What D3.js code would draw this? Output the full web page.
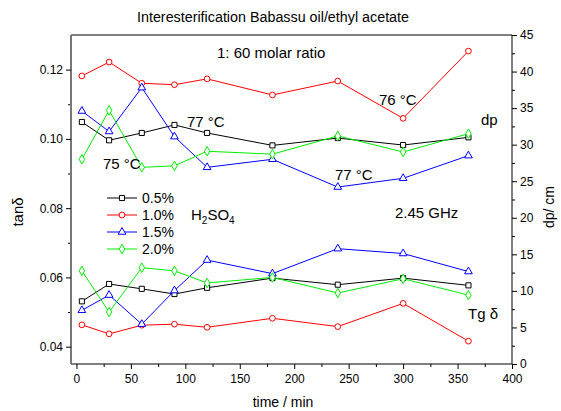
<!DOCTYPE html>
<html>
<head>
<meta charset="utf-8">
<script src="https://cdn.jsdelivr.net/npm/d3@7"></script>
<style>
  html, body { margin: 0; padding: 0; background: #fff; overflow: hidden; }
  svg { display: block; font-family: "Liberation Sans", Arial, sans-serif; }
</style>
</head>
<body>
<div id="chart"></div>
<script>
const times = [5, 30, 60, 90, 120, 180, 240, 300, 360];
const concentrations = ["0.5%", "1.0%", "1.5%", "2.0%"];

// penetration depth, cm (right axis)
const dp05 = [33.1, 30.6, 31.6, 32.7, 31.6, 29.9, 30.9, 29.95, 31.0];
const dp10 = [39.4, 41.3, 38.4, 38.2, 39.0, 36.8, 38.7, 33.6, 42.8];
const dp15 = [34.6, 31.8, 37.8, 31.1, 26.9, 28.0, 24.2, 25.4, 28.5];
const dp20 = [28.0, 34.7, 26.9, 27.1, 29.1, 28.7, 31.2, 29.0, 31.5];

// tan delta (left axis)
const tan05 = [0.0531, 0.0581, 0.0567, 0.0552, 0.0570, 0.0598, 0.0579, 0.0598, 0.0577];
const tan10 = [0.0463, 0.0437, 0.0462, 0.0465, 0.0456, 0.0482, 0.0458, 0.0525, 0.0416];
const tan15 = [0.0505, 0.0549, 0.0465, 0.0562, 0.0650, 0.0611, 0.0683, 0.0669, 0.0617];
const tan20 = [0.0619, 0.0500, 0.0628, 0.0619, 0.0584, 0.0600, 0.0555, 0.0596, 0.0549];

const colors = ["#000000", "#ff0000", "#0000ff", "#00ee00"];
const symbols = [d3.symbolSquare, d3.symbolCircle, d3.symbolTriangle, d3.symbolDiamond];
const symSize = 26;

const width = 561, height = 411;
const margin = { top: 35, right: 49, bottom: 47, left: 71 };
const innerWidth = width - margin.left - margin.right;
const innerHeight = height - margin.top - margin.bottom;

const svg = d3.select("#chart").append("svg")
  .attr("width", width).attr("height", height);

const g = svg.append("g")
  .attr("transform", `translate(${margin.left},${margin.top})`);

const x = d3.scaleLinear().domain([-5, 400]).range([0, innerWidth]);
const yL = d3.scaleLinear().domain([0.035, 0.13]).range([innerHeight, 0]);
const yR = d3.scaleLinear().domain([0, 45]).range([innerHeight, 0]);

// top border
g.append("line").attr("x1", 0).attr("x2", innerWidth).attr("y1", 0).attr("y2", 0)
  .attr("stroke", "#000");

// minor ticks (no labels)
const minor = (axis, vals) => {
  const a = g.append("g");
  a.call(axis.tickValues(vals).tickSize(3).tickFormat(""));
  a.select(".domain").remove();
  a.selectAll("text").remove();
  return a;
};
minor(d3.axisBottom(x), d3.range(25, 400, 50)).attr("transform", `translate(0,${innerHeight})`);
minor(d3.axisLeft(yL), [0.05, 0.07, 0.09, 0.11]);
minor(d3.axisRight(yR), d3.range(2.5, 45, 5)).attr("transform", `translate(${innerWidth},0)`);

// bottom axis
const xAxis = g.append("g").attr("transform", `translate(0,${innerHeight})`)
  .call(d3.axisBottom(x).tickValues(d3.range(0, 401, 50)).tickSize(5));
xAxis.select(".domain").attr("d", `M0,0H${innerWidth}`);
xAxis.selectAll("text").attr("dy", "0.95em");

// left axis
const yAxisL = g.append("g")
  .call(d3.axisLeft(yL).tickValues([0.04, 0.06, 0.08, 0.10, 0.12]).tickSize(5).tickFormat(d3.format(".2f")));
yAxisL.select(".domain").attr("d", `M0,${innerHeight}V0`).attr("stroke", "#777").attr("stroke-width", 2);

// right axis
const yAxisR = g.append("g").attr("transform", `translate(${innerWidth},0)`)
  .call(d3.axisRight(yR).tickValues(d3.range(0, 46, 5)).tickSize(5));
yAxisR.select(".domain").attr("d", `M0,${innerHeight}V0`);

[xAxis, yAxisL, yAxisR].forEach(a => {
  a.selectAll("text").attr("font-size", 12).attr("fill", "#000")
    .attr("font-family", "Liberation Sans, Arial, sans-serif");
});

const drawSeries = (vals, yScale, i) => {
  const pts = vals.map((v, k) => [times[k], v]);
  g.append("path").datum(pts)
    .attr("fill", "none").attr("stroke", colors[i]).attr("stroke-width", 1)
    .attr("d", d3.line().x(d => x(d[0])).y(d => yScale(d[1])));
  g.selectAll(null).data(pts).join("path")
    .attr("transform", d => `translate(${x(d[0])},${yScale(d[1])})`)
    .attr("d", d3.symbol(symbols[i], symSize))
    .attr("fill", "#fff").attr("stroke", colors[i]).attr("stroke-width", 1);
};

[dp05, dp10, dp15, dp20].forEach((s, i) => drawSeries(s, yR, i));
[tan05, tan10, tan15, tan20].forEach((s, i) => drawSeries(s, yL, i));

// legend
const legend = g.append("g").attr("transform", "translate(36,163)");
concentrations.forEach((c, i) => {
  const row = legend.append("g").attr("transform", `translate(0,${i * 17})`);
  row.append("line").attr("x1", 0).attr("x2", 30).attr("stroke", colors[i]);
  row.append("path").attr("transform", "translate(15,0)")
    .attr("d", d3.symbol(symbols[i], symSize))
    .attr("fill", "#fff").attr("stroke", colors[i]);
  row.append("text").attr("x", 35).attr("dy", "0.35em")
    .attr("font-size", 14).text(c);
});

// annotations
const note = (tx, ty, str, size) => svg.append("text")
  .attr("x", tx).attr("y", ty).attr("dy", "0.35em")
  .attr("font-size", size).text(str);

svg.append("text").attr("x", 137).attr("y", 17).attr("dy", "0.35em")
  .attr("font-size", 14).attr("textLength", 272).attr("lengthAdjust", "spacingAndGlyphs")
  .text("Interesterification Babassu oil/ethyl acetate");
note(217, 53, "1: 60 molar ratio", 15);
note(187, 122, "77 °C", 15);
note(103, 164, "75 °C", 15);
note(379, 100, "76 °C", 15);
note(335, 175, "77 °C", 15);
note(481, 120, "dp", 15);
note(395, 213, "2.45 GHz", 15);
note(468, 314, "Tg δ", 15);

const h2so4 = svg.append("text").attr("x", 191).attr("y", 220).attr("font-size", 15);
h2so4.append("tspan").text("H");
h2so4.append("tspan").attr("font-size", 10).attr("dy", 4).text("2");
h2so4.append("tspan").attr("dy", -4).text("SO");
h2so4.append("tspan").attr("font-size", 10).attr("dy", 4).text("4");

// axis titles
svg.append("text").attr("x", 283).attr("y", 402).attr("dy", "0.35em")
  .attr("text-anchor", "middle").attr("font-size", 14).text("time / min");
svg.append("text").attr("transform", "translate(18,212) rotate(-90)")
  .attr("dy", "0.35em").attr("text-anchor", "middle").attr("font-size", 15).text("tanδ");
svg.append("text").attr("transform", "translate(549,207) rotate(-90)")
  .attr("dy", "0.35em").attr("text-anchor", "middle").attr("font-size", 14).text("dp/ cm");
</script>
</body>
</html>
